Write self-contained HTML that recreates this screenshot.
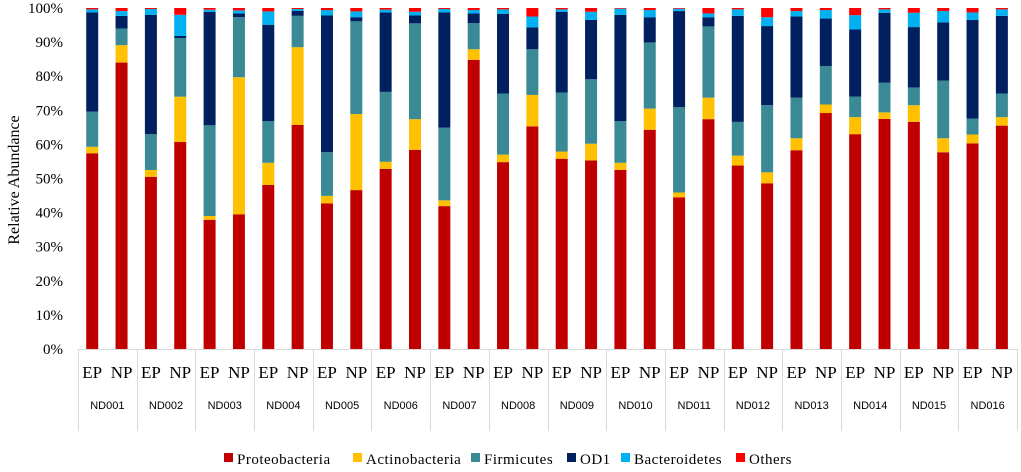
<!DOCTYPE html>
<html><head><meta charset="utf-8"><style>
body{margin:0;background:#fff;}
svg text{font-family:"Liberation Serif",serif;}
</style></head><body>
<svg id="chart" width="1021" height="467" xmlns="http://www.w3.org/2000/svg">
<g id="bars"></g>
<g id="axes"></g>
<g id="legend"></g>
</svg>
<script>
const groups = ["ND001","ND002","ND003","ND004","ND005","ND006","ND007","ND008","ND009","ND010","ND011","ND012","ND013","ND014","ND015","ND016"];
const subLabels = ["EP","NP"];
const seriesNames = ["Proteobacteria","Actinobacteria","Firmicutes","OD1","Bacteroidetes","Others"];
const seriesColors = ["#C00000","#FFC000","#3A8A96","#002060","#00B0F0","#FF0000"];
const proteobacteria = [57.4,84,50.5,60.7,37.9,39.5,48.1,65.7,42.7,46.6,52.8,58.4,41.9,84.8,54.8,65.3,55.8,55.3,52.5,64.3,44.5,67.4,53.8,48.6,58.3,69.2,63,67.5,66.6,57.7,60.3,65.5];
const actinobacteria = [1.9,5.1,2,13.3,1.1,40.2,6.5,22.8,2.2,22.3,2.1,9,1.7,3.1,2.2,9.2,2.1,4.9,2.1,6.2,1.4,6.3,2.9,3.2,3.5,2.5,5,1.9,4.9,4.1,2.6,2.5];
const firmicutes = [10.3,4.9,10.5,17.2,26.6,17.6,12.2,9.2,12.8,27.2,20.5,28.1,21.3,7.7,17.9,13.4,17.3,18.9,12.2,19.4,25,20.9,9.9,19.7,11.9,11.3,6,8.7,5.2,16.9,4.7,6.9];
const od1 = [29.1,3.7,35,0.6,33.3,1.1,28.3,1.5,40.1,1.2,23.3,2.3,33.8,2.8,23.4,6.4,23.7,17.4,31.2,7.4,28.2,2.7,31.1,23.2,23.8,13.9,19.7,20.5,17.7,17.1,28.9,22.8];
const bacteroidetes = [0.9,1.4,1.7,6.2,0.6,0.9,3.9,0.5,1.6,1.7,0.8,1.1,1,1,1.3,3.2,0.7,2.4,1.8,2.1,0.7,1.1,1.9,2.6,1.6,2.5,4.2,1,4.2,3.3,2.2,1.9];
const others = [0.4,0.9,0.3,2,0.5,0.7,1,0.3,0.6,1,0.5,1.1,0.3,0.6,0.4,2.5,0.4,1.1,0.2,0.6,0.2,1.6,0.4,2.7,0.9,0.6,2.1,0.4,1.4,0.9,1.3,0.4];
const yTicks = [0,10,20,30,40,50,60,70,80,90,100];

const NS="http://www.w3.org/2000/svg";
const series=[proteobacteria,actinobacteria,firmicutes,od1,bacteroidetes,others];
const x0=78, x1=1017, y0=349, yTop=8;
const gw=(x1-x0)/groups.length;
const y=v=>y0-(v/100)*(y0-yTop);
const barX=i=>x0+Math.floor(i/2)*gw+(i%2===0?0.14:0.64)*gw;
const bw=12;
function mk(tag,attrs,parent){const e=document.createElementNS(NS,tag);for(const k in attrs)e.setAttribute(k,attrs[k]);parent.appendChild(e);return e;}
const bars=document.getElementById('bars'),axes=document.getElementById('axes'),legend=document.getElementById('legend');
for(let i=0;i<proteobacteria.length;i++){
  let cum=0;
  for(let s=0;s<series.length;s++){
    const v=series[s][i];
    const r=mk('rect',{x:barX(i),y:y(cum+v),width:bw,height:Math.max(0,y(cum)-y(cum+v)),fill:seriesColors[s]},bars);
    
    
    cum+=v;
  }
}
yTicks.forEach(t=>{
  const tx=mk('text',{x:63,y:y(t)+5,'text-anchor':'end','font-size':15,fill:'#000'},axes);
  tx.textContent=t+'%';
  
  
});
const yt=mk('text',{x:0,y:0,transform:'translate(19,180) rotate(-90)','text-anchor':'middle','font-size':16,fill:'#000'},axes);
yt.textContent='Relative Abundance';


mk('line',{x1:x0,y1:y0+0.5,x2:x1,y2:y0+0.5,stroke:'#d9d9d9','stroke-width':1},axes);
for(let g=0;g<=groups.length;g++){
  const xx=Math.round(x0+g*gw)+0.5;
  mk('line',{x1:xx,y1:y0,x2:xx,y2:431,stroke:'#d9d9d9','stroke-width':1},axes);
}
groups.forEach((gname,g)=>{
  subLabels.forEach((sl,k)=>{
    const t=mk('text',{x:barX(g*2+k)+bw/2,y:378,'text-anchor':'middle','font-size':17,fill:'#000'},axes);
    t.textContent=sl;
    
    
  });
  const t=mk('text',{x:x0+(g+0.5)*gw,y:409,'text-anchor':'middle','font-size':11,fill:'#000'},axes);
  t.setAttribute('style','font-family:"Liberation Sans",sans-serif');
  t.textContent=gname;
  
  
});
const lx=[224,353,471,567,621,736];
seriesNames.forEach((n,s)=>{
  const r=mk('rect',{x:lx[s],y:453,width:9,height:9,fill:seriesColors[s]},legend);
  
  
  const t=mk('text',{x:lx[s]+13,y:464,'font-size':15,fill:'#000','letter-spacing':'0.5'},legend);
  t.textContent=n;
  
  
});
</script>
</body></html>
